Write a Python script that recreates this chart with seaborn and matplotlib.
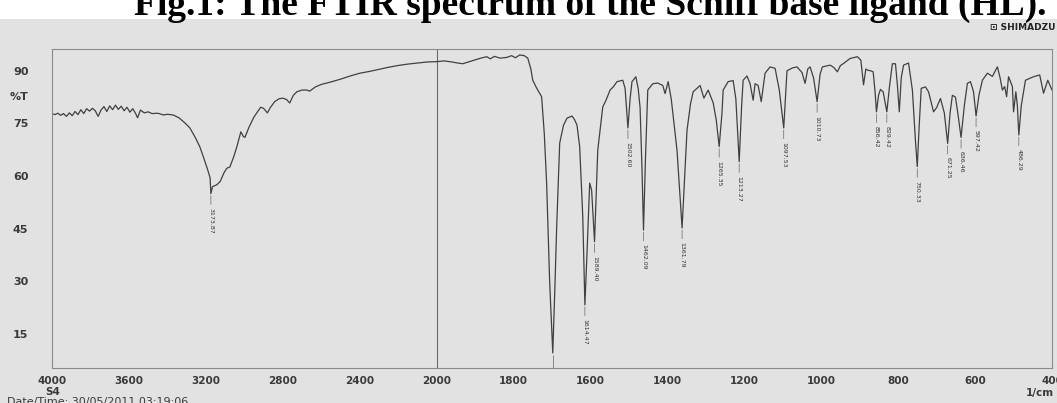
import numpy as np
import pandas as pd
import matplotlib
matplotlib.use('Agg')
import matplotlib.pyplot as plt
import seaborn as sns
from matplotlib.patches import Rectangle
from matplotlib.ticker import FixedLocator, MultipleLocator, NullFormatter

# ---- data (wavenumber 1/cm, %T) ----
wavenumber = [
    4000, 3985, 3970, 3955, 3940, 3925, 3910, 3895, 3880, 3865, 3850, 3835, 3820, 3805,
    3790, 3775, 3760, 3745, 3730, 3715, 3700, 3685, 3670, 3655, 3640, 3625, 3610, 3595,
    3580, 3565, 3555, 3540, 3520, 3500, 3480, 3450, 3420, 3400, 3370, 3340, 3310, 3283,
    3255, 3231, 3210, 3190, 3178, 3173.87, 3165, 3143, 3125, 3105, 3091, 3075, 3055, 3039,
    3018, 3005, 2997, 2975, 2950, 2935, 2915, 2900, 2880, 2865, 2842, 2820, 2800, 2780,
    2764, 2745, 2727, 2700, 2675, 2660, 2630, 2600, 2550, 2500, 2450, 2400, 2350, 2300,
    2250, 2200, 2150, 2100, 2050, 2000, 1980, 1960, 1945, 1932, 1915, 1900, 1885, 1870,
    1860, 1850, 1835, 1818, 1805, 1795, 1784, 1772, 1763, 1755, 1750, 1742, 1737, 1727,
    1720, 1714, 1706, 1698, 1692, 1688, 1680, 1670, 1661, 1648, 1641, 1635, 1628, 1620,
    1614.47, 1609, 1602, 1597, 1589.40, 1581, 1568, 1560, 1549, 1540, 1531, 1516, 1510,
    1502.60, 1497, 1492, 1482, 1476, 1471, 1466, 1462.09, 1457, 1451, 1438, 1425, 1412,
    1406, 1398, 1390, 1375, 1361.79, 1355, 1349, 1340, 1333, 1315, 1305, 1294, 1281, 1273,
    1265.35, 1258, 1255, 1242, 1229, 1222, 1213.27, 1207, 1203, 1193, 1185, 1177, 1172,
    1164, 1156, 1146, 1133, 1120, 1109, 1097.53, 1089, 1075, 1063, 1050, 1042, 1035, 1029,
    1020, 1010.73, 1003, 997, 977, 968, 958, 950, 943, 925, 906, 897, 890, 884, 880, 872,
    865, 860, 856.42, 851, 846, 839, 829.42, 822, 815, 807, 802, 797, 792, 786, 773, 763,
    755, 750.33, 745, 740, 729, 721, 708, 700, 690, 680, 671.25, 665, 659, 651, 645,
    636.46, 628, 620, 612, 604, 597.42, 590, 581, 568, 555, 542, 535, 529, 523, 518, 513,
    503, 500, 494, 490, 486.29, 480, 469, 448, 432, 422, 411, 400,
]
transmittance = [
    77.8, 77.5, 77.9, 77.3, 77.8, 77.0, 78.0, 77.2, 78.4, 77.5, 78.9, 77.8, 79.2, 78.5,
    79.3, 78.6, 77.0, 78.8, 79.8, 78.4, 80.0, 78.9, 80.2, 79.0, 79.9, 78.6, 79.6, 78.2,
    79.2, 77.8, 76.6, 78.8, 78.0, 78.3, 77.8, 77.9, 77.4, 77.6, 77.4, 76.6, 75.2, 73.7,
    71.0, 68.3, 65.0, 61.7, 59.5, 55.0, 57.0, 57.5, 58.5, 61.0, 62.2, 62.6, 65.5, 68.3,
    72.6, 71.3, 71.0, 74.0, 76.8, 78.0, 79.6, 79.3, 78.0, 79.5, 81.2, 82.0, 82.2, 81.8,
    80.8, 83.0, 84.0, 84.5, 84.5, 84.2, 85.4, 86.1, 86.8, 87.6, 88.5, 89.3, 89.8, 90.4,
    91.0, 91.5, 91.9, 92.2, 92.5, 92.6, 92.8, 92.5, 92.2, 92.0, 92.6, 93.1, 93.6, 94.0,
    93.4, 94.1, 93.6, 93.8, 94.3, 93.7, 94.5, 94.3, 93.6, 90.5, 87.3, 85.5, 84.5, 82.6,
    72.0, 58.0, 29.6, 9.6, 30.0, 45.0, 69.4, 74.5, 76.5, 77.1, 76.0, 74.5, 68.3, 48.4,
    23.3, 38.0, 58.0, 56.0, 41.3, 67.4, 79.7, 81.5, 84.5, 85.5, 86.9, 87.3, 85.0,
    73.7, 82.0, 86.9, 88.3, 85.0, 79.5, 62.0, 44.6, 65.0, 84.5, 86.3, 86.5, 85.8,
    83.5, 86.9, 82.0, 67.4, 45.2, 60.0, 73.0, 80.5, 84.0, 85.8, 82.2, 84.5, 80.9, 76.0,
    68.4, 78.0, 84.5, 86.9, 87.2, 82.0, 64.1, 80.0, 87.3, 88.5, 86.3, 81.6, 86.3,
    85.8, 81.2, 89.3, 91.1, 90.7, 84.5, 73.7, 90.0, 90.8, 91.1, 89.5, 86.4, 90.5, 91.1,
    88.0, 81.2, 89.0, 91.1, 91.6, 91.0, 89.7, 91.5, 92.0, 93.5, 94.0, 93.0, 86.0, 90.5, 90.2, 90.0,
    89.7, 84.0, 78.3, 83.0, 84.7, 84.0, 78.3, 86.0, 92.0, 92.0, 86.0, 78.3, 88.0, 91.6, 92.2, 84.5,
    70.0, 62.7, 75.0, 85.0, 85.4, 84.0, 78.3, 79.5, 82.1, 78.0, 69.3, 78.0, 83.0, 82.5, 78.0,
    71.0, 80.0, 86.4, 86.9, 84.0, 77.1, 83.0, 87.3, 89.3, 88.4, 91.1, 88.0, 84.5, 85.5, 82.6, 88.3,
    85.5, 78.3, 84.0, 80.0, 71.7, 80.0, 87.3, 88.3, 88.8, 83.6, 87.3, 84.5,
]

# labelled peaks
peak_wn = [3173.87, 1614.47, 1589.40, 1502.60, 1462.09, 1361.79, 1265.35, 1213.27,
           1097.53, 1010.73, 856.42, 829.42, 750.33, 671.25, 636.46, 597.42, 486.29]
peak_t = [55.0, 23.3, 41.3, 73.7, 44.6, 45.2, 68.4, 64.1,
          73.7, 81.2, 78.3, 78.3, 62.7, 69.3, 71.0, 77.1, 71.7]
peak_labels = ['3173.87', '1614.47', '1589.40', '1502.60', '1462.09', '1361.79', '1265.35',
               '1213.27', '1097.53', '1010.73', '856.42', '829.42', '750.33', '671.25',
               '636.46', '597.42', '486.29']

xtick_labels = [4000, 3600, 3200, 2800, 2400, 2000, 1800, 1600, 1400, 1200, 1000, 800, 600, 400]

df = pd.DataFrame({'wn': wavenumber, 'T': transmittance})

# ---- style ----
sns.set_style('white')
plt.rcParams['font.family'] = ['DejaVu Sans']
bg = '#e2e2e2'
ink = '#3a3a3a'

W, H = 1057, 403
fig = plt.figure(figsize=(W / 100, H / 100), dpi=100, facecolor=bg)
# white strip behind the (cropped) caption
fig.add_artist(Rectangle((0, 1 - 19 / H), 1, 19 / H, transform=fig.transFigure,
                         facecolor='white', edgecolor='none', zorder=0))

ax = fig.add_axes([52 / W, 35 / H, 1000 / W, 319 / H])
ax.set_facecolor(bg)


# Shimadzu style axis: 4000-2000 drawn at half scale
def fwd(x):
    x = np.asarray(x, dtype=float)
    return np.where(x > 2000, 2000 + (x - 2000) / 2, x)


def inv(u):
    u = np.asarray(u, dtype=float)
    return np.where(u > 2000, 2000 + (u - 2000) * 2, u)


ax.set_xscale('function', functions=(fwd, inv))

sns.lineplot(data=df, x='wn', y='T', estimator=None, sort=False, ax=ax,
             color='#404040', linewidth=0.9)

ax.set_xlim(4000, 400)
ax.set_ylim(5.3, 96.2)
ax.axvline(2000, color='#6a6a6a', linewidth=0.8, zorder=1)

# peak labels
for wn, t, lab in zip(peak_wn, peak_t, peak_labels):
    ax.annotate(lab, xy=(wn, t - 0.6), xytext=(wn, t - 4.0), rotation=270,
                ha='center', va='top', fontsize=4.5, color='#333333',
                arrowprops=dict(arrowstyle='-', color='#666666', lw=0.5,
                                shrinkA=0, shrinkB=0))
# strongest band: its label falls below the frame
ax.vlines(1698, 5.3, 9.0, color='#666666', linewidth=0.5)

# ticks
minor_x = list(np.arange(4000, 2000, -80)) + list(np.arange(2000, 399, -40))
ax.xaxis.set_major_locator(FixedLocator(xtick_labels))
ax.xaxis.set_minor_locator(FixedLocator(minor_x))
ax.set_xticklabels([str(v) for v in xtick_labels])
ax.yaxis.set_major_locator(MultipleLocator(15))
ax.yaxis.set_minor_locator(MultipleLocator(3))
ax.yaxis.set_minor_formatter(NullFormatter())

ax.tick_params(axis='x', which='both', direction='out', length=3, width=0.6,
               color='#777777', pad=3, labelsize=7.5, labelcolor=ink)
ax.tick_params(axis='y', which='both', direction='out', length=6, width=0.6,
               color='#777777', pad=11, labelsize=8, labelcolor=ink)
for lab in ax.get_xticklabels() + ax.get_yticklabels():
    lab.set_fontweight('bold')

for s in ax.spines.values():
    s.set_color('#8a8a8a')
    s.set_linewidth(0.8)
ax.set_xlabel('')
ax.set_ylabel('')

# annotations around the frame
fig.text(19 / W, 1 - 97 / H, '%T', ha='center', va='center', fontsize=8,
         fontweight='bold', color=ink)
fig.text(53 / W, 1 - 392 / H, 'S4', ha='center', va='center', fontsize=7.5,
         fontweight='bold', color=ink)
fig.text(1054 / W, 1 - 393 / H, '1/cm', ha='right', va='center', fontsize=7.5,
         fontweight='bold', color=ink)
fig.text(7 / W, 1 - 397 / H, 'Date/Time: 30/05/2011 03:19:06', ha='left', va='top',
         fontsize=8, color=ink)
fig.text(1055 / W, 1 - 27 / H, '\u22a1 SHIMADZU', ha='right', va='center', fontsize=6.5,
         fontweight='bold', color='#222222')
fig.text(590 / W, 1 - 15 / H, 'Fig.1: The FTIR spectrum of the Schiff base ligand (HL).',
         ha='center', va='baseline', fontsize=27, fontweight='bold',
         family='Liberation Serif', color='black', zorder=3)

fig.savefig('out.png', dpi=100, facecolor=fig.get_facecolor())
